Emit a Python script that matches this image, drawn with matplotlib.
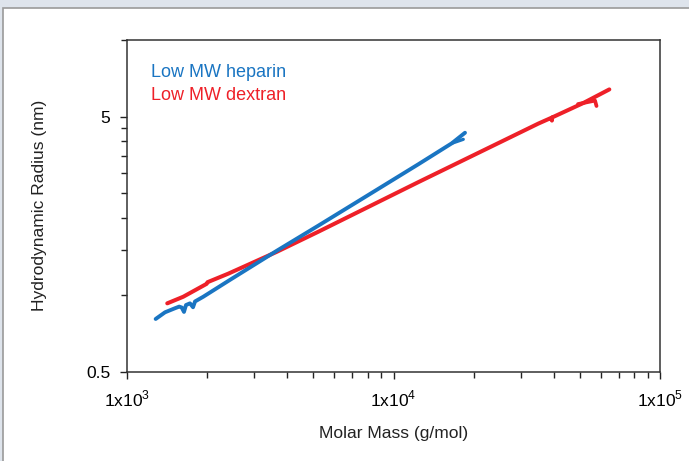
import numpy as np
import matplotlib
matplotlib.use("Agg")
import matplotlib.pyplot as plt
from matplotlib.patches import Rectangle
from matplotlib.ticker import FixedLocator, NullFormatter

plt.rcParams['font.family'] = ['Liberation Sans', 'DejaVu Sans']
plt.rcParams['mathtext.fontset'] = 'custom'
plt.rcParams['mathtext.rm'] = 'Liberation Sans'

# Low MW heparin
heparin_mass = [1281, 1389, 1514, 1570, 1604, 1636, 1665, 1723, 1769, 1800, 1933,
                2435, 3646, 5223, 7485, 12393, 16535, 18548]
heparin_rh = [0.805, 0.855, 0.887, 0.900, 0.893, 0.858, 0.913, 0.927, 0.895, 0.943, 0.984,
              1.146, 1.490, 1.870, 2.355, 3.255, 3.932, 4.327]
# second branch at the high mass end
heparin_fork_mass = [16535, 18277]
heparin_fork_rh = [3.932, 4.077]

# Low MW dextran
dextran_mass = [1416, 1626, 1991, 2005, 2399, 3646, 5223, 12393, 34946, 39233, 39300,
                39400, 51548, 64545]
dextran_rh = [0.927, 0.984, 1.106, 1.122, 1.212, 1.476, 1.770, 2.770, 4.700, 4.960, 4.830,
              4.970, 5.660, 6.400]
# small hook near the end
dextran_tail_mass = [49240, 57035, 57770]
dextran_tail_rh = [5.606, 5.786, 5.51]

blue = '#1a75c2'
red = '#ee2028'

fig = plt.figure(figsize=(6.89, 4.61), dpi=100)
fig.patch.set_facecolor('#dee4ec')
frame = Rectangle((3 / 689, -0.01), 1.0, 0.9826 + 0.01,
                  transform=fig.transFigure, facecolor='white',
                  edgecolor='#9a9a9a', linewidth=1.2, zorder=-10)
fig.patches.append(frame)

ax = fig.add_axes([127 / 689, 1 - 371.7 / 461, 533 / 689, 331.7 / 461])
ax.set_zorder(5)
ax.set_xscale('log')
ax.set_yscale('log')

ax.plot(dextran_mass, dextran_rh, color=red, lw=2.9, solid_capstyle='round')
ax.plot(dextran_tail_mass, dextran_tail_rh, color=red, lw=2.7, solid_capstyle='round')
ax.plot(heparin_mass, heparin_rh, color=blue, lw=2.8, solid_capstyle='round')
ax.plot(heparin_fork_mass, heparin_fork_rh, color=blue, lw=2.3, solid_capstyle='round')

ax.set_xlim(1e3, 1e5)
ax.set_ylim(0.5, 10)

ax.xaxis.set_major_locator(FixedLocator([1e3, 1e4, 1e5]))
ax.set_xticklabels([r'1x10$^{3}$', r'1x10$^{4}$', r'1x10$^{5}$'])
ax.xaxis.set_minor_locator(FixedLocator([k * 10 ** e for e in (3, 4) for k in range(2, 10)]))
ax.xaxis.set_minor_formatter(NullFormatter())

ax.yaxis.set_major_locator(FixedLocator([0.5, 5]))
ax.set_yticklabels(['0.5', '5'])
ax.yaxis.set_minor_locator(FixedLocator([1, 1.5, 2, 2.5, 3, 3.5, 4, 4.5, 10]))
ax.yaxis.set_minor_formatter(NullFormatter())

ax.tick_params(which='both', direction='out', length=5, width=1, color='#222222',
               labelsize=12.5, pad=7, top=False, right=False)
ax.tick_params(which='minor', length=4.5)
for s in ax.spines.values():
    s.set_color('#333333')
    s.set_linewidth(1.1)

ax.set_xlabel('Molar Mass (g/mol)', fontsize=12.5, color='#222222')
ax.set_ylabel('Hydrodynamic Radius (nm)', fontsize=12.5, color='#222222')
ax.xaxis.set_label_coords(0.5, -0.165)
ax.yaxis.set_label_coords(-0.15, 0.5)

ax.text(0.045, 0.9035, 'Low MW heparin', color=blue, fontsize=13,
        transform=ax.transAxes, va='center', ha='left')
ax.text(0.045, 0.834, 'Low MW dextran', color=red, fontsize=13,
        transform=ax.transAxes, va='center', ha='left')

fig.savefig('out.png', dpi=100, facecolor=fig.get_facecolor())
